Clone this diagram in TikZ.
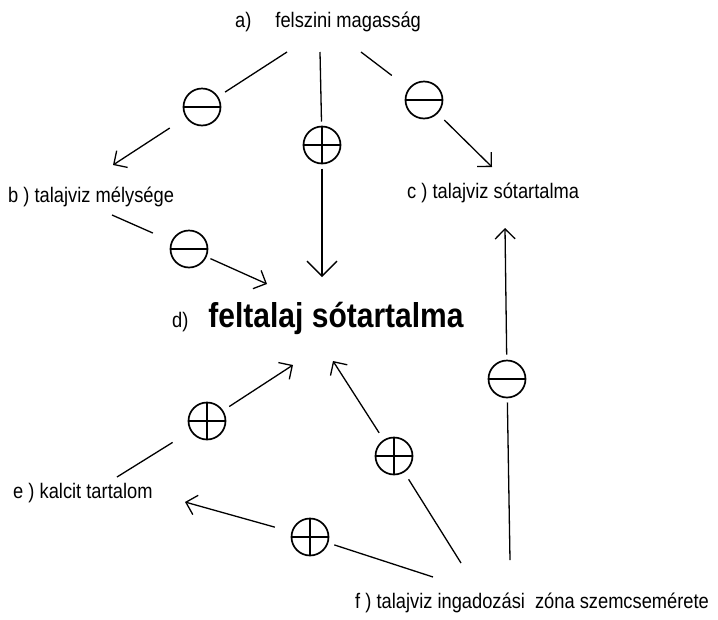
\documentclass[tikz,border=0pt]{standalone}
\usepackage{fontspec}
\usepackage{graphicx}
\setmainfont{Liberation Sans}
\usetikzlibrary{arrows.meta}
\newcommand\talltext[1]{\scalebox{1}[1.15]{#1}}
\tikzset{
  lbl/.style={anchor=base west, inner sep=0pt, font=\fontsize{18.3}{20}\selectfont},
  biglbl/.style={anchor=base west, inner sep=0pt},
  sgn/.style={circle, draw, line width=1.7pt, minimum size=37pt, inner sep=0pt, outer sep=0pt},
  minussign/.style={sgn, path picture={\draw[line width=1.5pt] (path picture bounding box.west) -- (path picture bounding box.east);}},
  plussign/.style={sgn, path picture={\draw[line width=1.5pt] (path picture bounding box.west) -- (path picture bounding box.east) (path picture bounding box.north) -- (path picture bounding box.south);}},
  conn/.style={line width=1.3pt},
  arr/.style={conn, -{Straight Barb[length=10pt,width=20pt,line width=1.3pt]}},
  bigarr/.style={conn, -{Straight Barb[length=15pt,width=30pt,line width=1.3pt]}}
}
\begin{document}
\begin{tikzpicture}[x=1pt,y=-1pt]
\path[use as bounding box] (0,0) rectangle (718,619);
% labels
\node[lbl] (a) at (235,27) {\talltext{a)\hspace{24pt}felszini magasság}};
\node[lbl] (b) at (8,202) {\talltext{b ) talajviz mélysége}};
\node[lbl] (c) at (407,198) {\talltext{c ) talajviz sótartalma}};
\node[biglbl] (d) at (172,327) {\talltext{\fontsize{18.3}{20}\selectfont d)\hspace{20pt}\fontsize{30}{32}\selectfont\bfseries feltalaj sótartalma}};
\node[lbl] (e) at (13,498) {\talltext{e ) kalcit tartalom}};
\node[lbl] (f) at (355,608) {\talltext{f ) talajviz ingadozási\hspace{10pt}zóna szemcsemérete}};
% signs
\node[minussign] (m1) at (202,107) {};
\node[plussign] (p1) at (322,145) {};
\node[minussign] (m2) at (424,100) {};
\node[minussign] (m3) at (189,249) {};
\node[minussign] (m4) at (507,379) {};
\node[plussign] (p2) at (207,421) {};
\node[plussign] (p3) at (394,456) {};
\node[plussign] (p4) at (310,537) {};
% free ends
\coordinate (a1) at (287,52);
\coordinate (a2) at (320,52);
\coordinate (a3) at (361,52);
\coordinate (b1) at (113,165);
\coordinate (dtop) at (322,277);
\coordinate (c1) at (492,167);
\coordinate (b2) at (112,215);
\coordinate (d1) at (267,284);
\coordinate (f1) at (510,560);
\coordinate (c2) at (505,228);
\coordinate (f2) at (461,563);
\coordinate (d2) at (333,361);
\coordinate (f3) at (433,577);
\coordinate (e1) at (185,502);
\coordinate (e2) at (117,477);
\coordinate (d3) at (293,365);
% connectors
\draw[conn, shorten >=9pt] (a1) -- (m1);
\draw[arr, shorten <=20pt] (m1) -- (b1);
\draw[conn, shorten >=5pt] (a2) -- (p1);
\draw[bigarr, shorten <=5pt] (p1) -- (dtop);
\draw[conn, shorten >=22pt] (a3) -- (m2);
\draw[arr, shorten <=10pt] (m2) -- (c1);
\draw[conn, shorten >=21pt] (b2) -- (m3);
\draw[arr, shorten <=5pt] (m3) -- (d1);
\draw[conn, shorten >=5pt] (f1) -- (m4);
\draw[arr, shorten <=6pt] (m4) -- (c2);
\draw[conn, shorten >=9pt] (f2) -- (p3);
\draw[arr, shorten <=9pt] (p3) -- (d2);
\draw[conn, shorten >=7pt] (f3) -- (p4);
\draw[arr, shorten <=18pt] (p4) -- (e1);
\draw[conn, shorten >=22pt] (e2) -- (p2);
\draw[arr, shorten <=8pt] (p2) -- (d3);
\end{tikzpicture}
\end{document}
